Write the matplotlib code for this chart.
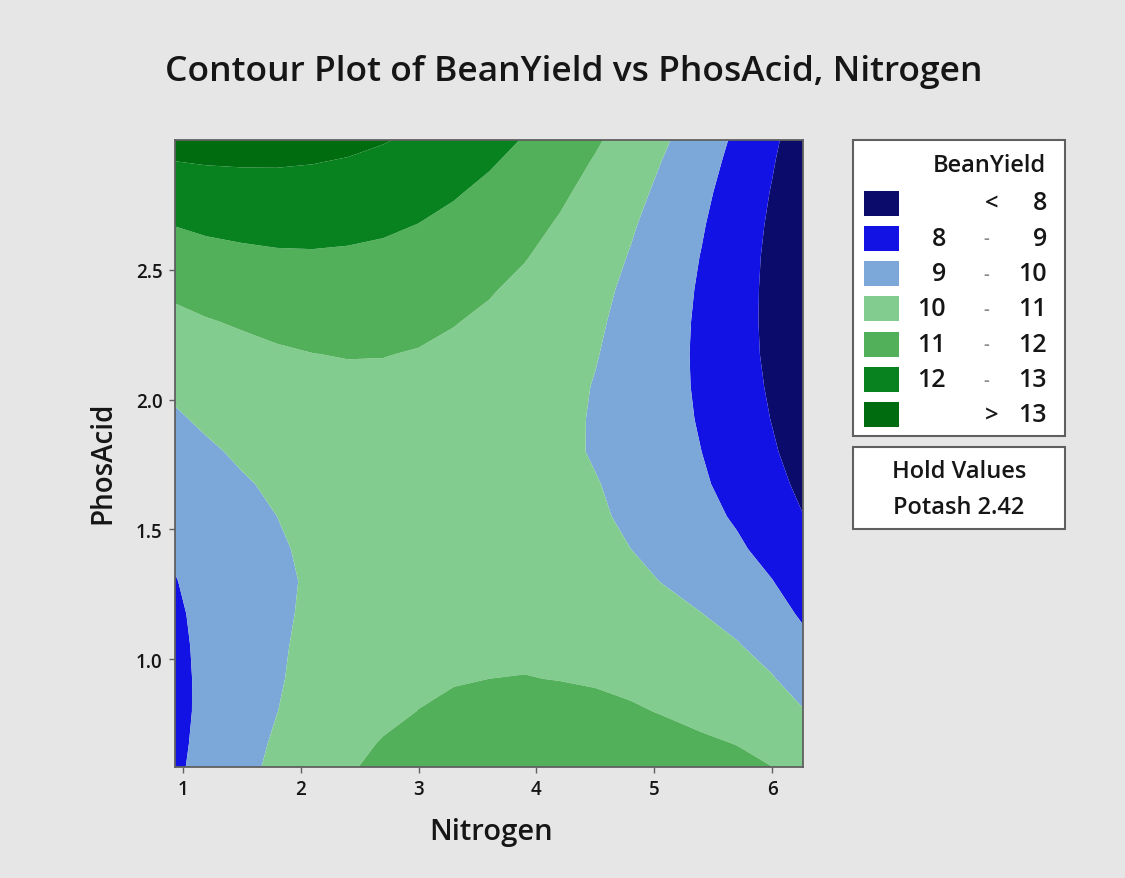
import matplotlib.pyplot as plt
from matplotlib.patches import Rectangle

# Yield surface read off the reference contour bands
# rows follow phos_acid, columns follow nitrogen
nitrogen = [0.9, 1.2, 1.5, 1.8, 2.1, 2.4, 2.7, 3.0, 3.3, 3.6,
            3.9, 4.2, 4.5, 4.8, 5.1, 5.4, 5.7, 6.0, 6.3]
phos_acid = [0.55, 0.675, 0.8, 0.925, 1.05, 1.175, 1.3, 1.425, 1.55, 1.675, 1.8,
             1.925, 2.05, 2.175, 2.3, 2.425, 2.55, 2.675, 2.8, 2.925, 3.05]
bean_yield = [
    [8.80, 9.32, 9.78, 10.23, 10.64, 10.97, 11.24, 11.47, 11.60, 11.70, 11.79, 11.82, 11.80, 11.74, 11.63, 11.50, 11.32, 11.11, 10.80],
    [8.75, 9.24, 9.69, 10.11, 10.50, 10.80, 11.05, 11.26, 11.37, 11.45, 11.51, 11.52, 11.49, 11.40, 11.27, 11.13, 10.98, 10.73, 10.39],
    [8.72, 9.19, 9.62, 9.99, 10.32, 10.60, 10.83, 11.01, 11.15, 11.23, 11.27, 11.26, 11.20, 11.09, 10.94, 10.76, 10.60, 10.38, 9.98],
    [8.73, 9.18, 9.58, 9.93, 10.24, 10.50, 10.70, 10.86, 10.95, 11.00, 11.02, 10.98, 10.92, 10.81, 10.69, 10.53, 10.34, 10.05, 9.56],
    [8.77, 9.19, 9.57, 9.90, 10.19, 10.42, 10.61, 10.75, 10.84, 10.88, 10.87, 10.82, 10.72, 10.59, 10.45, 10.27, 10.06, 9.70, 9.17],
    [8.83, 9.22, 9.57, 9.87, 10.13, 10.36, 10.54, 10.66, 10.73, 10.75, 10.72, 10.64, 10.52, 10.38, 10.20, 10.01, 9.74, 9.34, 8.81],
    [8.93, 9.27, 9.58, 9.85, 10.10, 10.32, 10.48, 10.60, 10.65, 10.65, 10.60, 10.50, 10.35, 10.16, 9.96, 9.72, 9.42, 9.02, 8.49],
    [9.06, 9.38, 9.66, 9.91, 10.14, 10.34, 10.48, 10.58, 10.60, 10.58, 10.51, 10.39, 10.22, 10.00, 9.74, 9.47, 9.13, 8.71, 8.19],
    [9.22, 9.52, 9.78, 10.00, 10.21, 10.38, 10.50, 10.58, 10.59, 10.54, 10.45, 10.30, 10.11, 9.87, 9.59, 9.25, 8.90, 8.45, 7.95],
    [9.41, 9.68, 9.92, 10.13, 10.31, 10.46, 10.56, 10.62, 10.60, 10.53, 10.41, 10.25, 10.04, 9.78, 9.47, 9.11, 8.70, 8.25, 7.75],
    [9.62, 9.88, 10.12, 10.32, 10.48, 10.62, 10.68, 10.68, 10.64, 10.55, 10.41, 10.18, 9.93, 9.68, 9.38, 9.00, 8.57, 8.09, 7.57],
    [9.87, 10.13, 10.35, 10.55, 10.68, 10.76, 10.79, 10.78, 10.72, 10.60, 10.44, 10.19, 9.93, 9.65, 9.32, 8.92, 8.47, 7.97, 7.42],
    [10.12, 10.35, 10.52, 10.67, 10.78, 10.84, 10.85, 10.81, 10.73, 10.61, 10.46, 10.24, 9.96, 9.67, 9.29, 8.87, 8.40, 7.88, 7.31],
    [10.43, 10.63, 10.78, 10.91, 10.99, 11.03, 11.02, 10.96, 10.85, 10.73, 10.55, 10.34, 10.04, 9.69, 9.29, 8.85, 8.35, 7.81, 7.22],
    [10.77, 10.95, 11.08, 11.19, 11.26, 11.27, 11.24, 11.16, 11.03, 10.87, 10.67, 10.44, 10.12, 9.75, 9.33, 8.86, 8.34, 7.78, 7.17],
    [11.14, 11.31, 11.43, 11.52, 11.56, 11.55, 11.50, 11.39, 11.24, 11.06, 10.83, 10.57, 10.22, 9.83, 9.39, 8.90, 8.36, 7.78, 7.14],
    [11.57, 11.74, 11.82, 11.89, 11.91, 11.88, 11.81, 11.68, 11.51, 11.31, 11.04, 10.73, 10.36, 9.95, 9.48, 8.97, 8.41, 7.80, 7.15],
    [12.01, 12.15, 12.24, 12.29, 12.29, 12.23, 12.14, 11.99, 11.79, 11.55, 11.26, 10.92, 10.53, 10.09, 9.61, 9.07, 8.49, 7.86, 7.18],
    [12.47, 12.59, 12.66, 12.68, 12.66, 12.59, 12.46, 12.30, 12.08, 11.81, 11.50, 11.14, 10.73, 10.27, 9.76, 9.20, 8.60, 7.95, 7.25],
    [13.02, 13.09, 13.11, 13.11, 13.06, 12.97, 12.82, 12.63, 12.39, 12.11, 11.77, 11.39, 10.95, 10.47, 9.94, 9.37, 8.74, 8.07, 7.35],
    [13.48, 13.56, 13.59, 13.57, 13.50, 13.38, 13.21, 13.00, 12.74, 12.43, 12.07, 11.67, 11.21, 10.71, 10.16, 9.56, 8.91, 8.22, 7.47],
]

levels = [0, 8, 9, 10, 11, 12, 13, 20]
band_colors = ["#0b0b6c", "#1212e4", "#7ba8d9", "#82cc8f", "#53b05a", "#08821f", "#006c10"]
band_labels = [("", "<", "8"), ("8", "-", "9"), ("9", "-", "10"), ("10", "-", "11"),
               ("11", "-", "12"), ("12", "-", "13"), ("", ">", "13")]
potash_hold = 2.42

W, H = 1125, 879
plt.rcParams['font.family'] = ['Open Sans', 'DejaVu Sans']
plt.rcParams['font.weight'] = 'semibold'
fig = plt.figure(figsize=(W / 100, H / 100), dpi=100, facecolor="#e6e6e6")
ink = "#161616"


def fx(px):
    return px / W


def fy(py):
    return 1 - py / H


ax = fig.add_axes([fx(175), fy(768), fx(803) - fx(175), fy(141) - fy(768)])
ax.contourf(nitrogen, phos_acid, bean_yield, levels=levels, colors=band_colors, antialiased=True)
ax.set_xlim(0.935, 6.26)
ax.set_ylim(0.585, 3.0)
ax.set_xticks([1, 2, 3, 4, 5, 6])
ax.set_yticks([1.0, 1.5, 2.0, 2.5])
ax.set_yticklabels(["1.0", "1.5", "2.0", "2.5"])
ax.tick_params(length=4, width=1, color="#606060", labelsize=13.5, labelcolor=ink, pad=5)
for sp in ax.spines.values():
    sp.set_color("#606060")
    sp.set_linewidth(1.3)

fig.text(fx(491), fy(833), "Nitrogen", ha="center", va="center", fontsize=21, color=ink)
fig.text(fx(103), fy(463), "PhosAcid", ha="center", va="center", rotation=90, fontsize=20, color=ink)
fig.text(fx(574), fy(72), "Contour Plot of BeanYield vs PhosAcid, Nitrogen",
         ha="center", va="center", fontsize=25.5, color=ink)

# legend box
fig.patches.append(Rectangle((fx(853), fy(437)), fx(1065) - fx(853), fy(141) - fy(437),
                             transform=fig.transFigure, facecolor="white", edgecolor="#606060", lw=1.5))
fig.text(fx(1046), fy(166), "BeanYield", ha="right", va="center", fontsize=17, color=ink)
for i, (col, (lo, sep, hi)) in enumerate(zip(band_colors, band_labels)):
    yc = 204 + i * 35.3
    fig.patches.append(Rectangle((fx(864), fy(yc + 12.5)), fx(35), 25 / H,
                                 transform=fig.transFigure, facecolor=col, edgecolor="none"))
    if lo:
        fig.text(fx(946), fy(yc), lo, ha="right", va="center", fontsize=18, color=ink)
    if sep == "-":
        fig.text(fx(986), fy(yc), sep, ha="center", va="center", fontsize=13, color="#8a8a8a")
    else:
        fig.text(fx(992), fy(yc), sep, ha="center", va="center", fontsize=17, color=ink)
    fig.text(fx(1047), fy(yc), hi, ha="right", va="center", fontsize=18, color=ink)

# hold values box
fig.patches.append(Rectangle((fx(853), fy(530)), fx(1065) - fx(853), fy(448) - fy(530),
                             transform=fig.transFigure, facecolor="white", edgecolor="#606060", lw=1.5))
fig.text(fx(959), fy(472), "Hold Values", ha="center", va="center", fontsize=17, color=ink)
fig.text(fx(959), fy(508), f"Potash {potash_hold}", ha="center", va="center", fontsize=17, color=ink)

fig.savefig("out.png", dpi=100, facecolor=fig.get_facecolor())
